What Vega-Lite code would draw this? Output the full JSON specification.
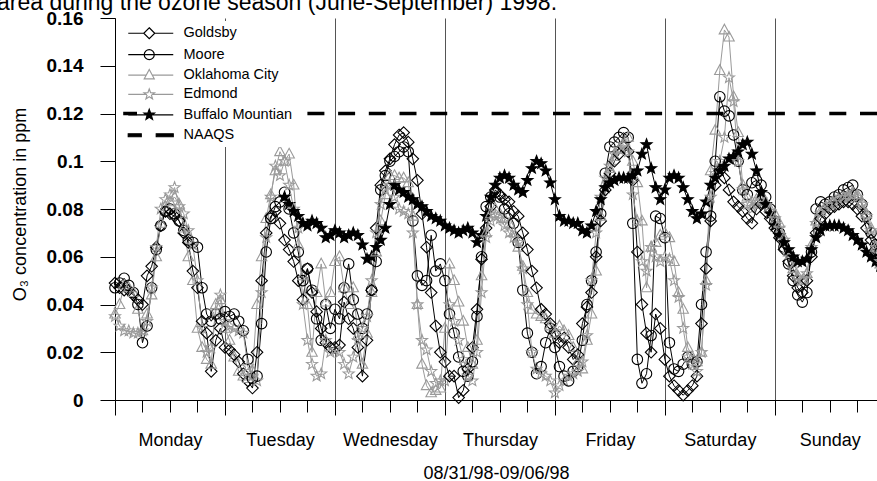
{
"$schema":"https://vega.github.io/schema/vega-lite/v6.json",
"autosize":"none",
"padding":{"left":115,"top":18,"right":0,"bottom":81},
"width":762,"height":382,
"background":"white",
"config":{"view":{"stroke":null},"font":"Liberation Sans",
 "legend":{"orient":"none","legendX":22,"legendY":3,"fillColor":"white","padding":5,"labelFont":"Liberation Sans","labelFontSize":14.5,"labelColor":"black","labelOffset":27,"rowPadding":4.4,"symbolSize":100,"symbolStrokeWidth":1.2,"title":null}},
"title":{"text":"area during the ozone season (June-September) 1998.","anchor":"start","frame":"group","orient":"top","baseline":"alphabetic","offset":0,"dy":24,"dx":-118,"fontSize":23,"fontWeight":"normal","font":"Liberation Sans","color":"black"},
"datasets":{
"names":[{"s":"Goldsby"},{"s":"Moore"},{"s":"Oklahoma City"},{"s":"Edmond"},{"s":"Buffalo Mountian"},{"s":"NAAQS"}],
"o3":[
{"h":0,"G":0.049,"M":0.047,"O":0.036,"E":0.035},
{"h":1,"G":0.047,"M":0.049,"O":0.040,"E":0.031},
{"h":2,"G":0.046,"M":0.051,"O":0.048,"E":0.029},
{"h":3,"G":0.046,"M":0.048,"O":0.047,"E":0.029},
{"h":4,"G":0.044,"M":0.045,"O":0.045,"E":0.028},
{"h":5,"G":0.042,"M":0.040,"O":0.038,"E":0.028},
{"h":6,"G":0.040,"M":0.024,"O":0.029,"E":0.029},
{"h":7,"G":0.052,"M":0.031,"O":0.036,"E":0.033},
{"h":8,"G":0.056,"M":0.047,"O":0.044,"E":0.047},
{"h":9,"G":0.064,"M":0.063,"O":0.060,"E":0.064},
{"h":10,"G":0.073,"M":0.073,"O":0.074,"E":0.080},
{"h":11,"G":0.079,"M":0.079,"O":0.081,"E":0.084},
{"h":12,"G":0.078,"M":0.080,"O":0.083,"E":0.086},
{"h":13,"G":0.077,"M":0.078,"O":0.085,"E":0.089},
{"h":14,"G":0.075,"M":0.075,"O":0.082,"E":0.081},
{"h":15,"G":0.070,"M":0.071,"O":0.072,"E":0.078},
{"h":16,"G":0.066,"M":0.067,"O":0.060,"E":0.071},
{"h":17,"G":0.054,"M":0.066,"O":0.050,"E":0.065},
{"h":18,"G":0.047,"M":0.064,"O":0.030,"E":0.050},
{"h":19,"G":0.033,"M":0.047,"O":0.022,"E":0.030},
{"h":20,"G":0.028,"M":0.036,"O":0.017,"E":0.020},
{"h":21,"G":0.012,"M":0.033,"O":0.015,"E":0.022},
{"h":22,"G":0.025,"M":0.036,"O":0.040,"E":0.037},
{"h":23,"G":0.030,"M":0.034,"O":0.042,"E":0.044},
{"h":24,"G":0.022,"M":0.037,"O":0.030,"E":0.033},
{"h":25,"G":0.021,"M":0.035,"O":0.025,"E":0.031},
{"h":26,"G":0.019,"M":0.036,"O":0.018,"E":0.030},
{"h":27,"G":0.016,"M":0.033,"O":0.012,"E":0.029},
{"h":28,"G":0.011,"M":0.029,"O":0.010,"E":0.028},
{"h":29,"G":0.008,"M":0.017,"O":0.009,"E":0.014},
{"h":30,"G":0.005,"M":0.009,"O":0.012,"E":0.010},
{"h":31,"G":0.020,"M":0.010,"O":0.040,"E":0.008},
{"h":32,"G":0.050,"M":0.032,"O":0.060,"E":0.045},
{"h":33,"G":0.070,"M":0.062,"O":0.076,"E":0.068},
{"h":34,"G":0.077,"M":0.076,"O":0.086,"E":0.085},
{"h":35,"G":0.079,"M":0.081,"O":0.096,"E":0.098},
{"h":36,"G":0.074,"M":0.083,"O":0.104,"E":0.094},
{"h":37,"G":0.067,"M":0.087,"O":0.100,"E":0.100,"B":0.085},
{"h":38,"G":0.063,"M":0.080,"O":0.103,"E":0.090,"B":0.082},
{"h":39,"G":0.058,"M":0.070,"O":0.090,"E":0.080,"B":0.079},
{"h":40,"G":0.050,"M":0.062,"O":0.065,"E":0.072,"B":0.077},
{"h":41,"G":0.042,"M":0.050,"O":0.052,"E":0.040,"B":0.074},
{"h":42,"G":0.055,"M":0.055,"O":0.040,"E":0.025,"B":0.073},
{"h":43,"G":0.045,"M":0.046,"O":0.020,"E":0.015,"B":0.075},
{"h":44,"G":0.037,"M":0.034,"O":0.045,"E":0.010,"B":0.074},
{"h":45,"G":0.030,"M":0.025,"O":0.057,"E":0.011,"B":0.072},
{"h":46,"G":0.024,"M":0.040,"O":0.041,"E":0.025,"B":0.068},
{"h":47,"G":0.022,"M":0.030,"O":0.045,"E":0.020,"B":0.069},
{"h":48,"G":0.022,"M":0.038,"O":0.058,"E":0.021,"B":0.071},
{"h":49,"G":0.023,"M":0.034,"O":0.060,"E":0.020,"B":0.070},
{"h":50,"G":0.041,"M":0.047,"O":0.047,"E":0.015,"B":0.068},
{"h":51,"G":0.034,"M":0.057,"O":0.040,"E":0.011,"B":0.069},
{"h":52,"G":0.030,"M":0.042,"O":0.047,"E":0.018,"B":0.070},
{"h":53,"G":0.022,"M":0.036,"O":0.027,"E":0.025,"B":0.069},
{"h":54,"G":0.010,"M":0.030,"O":0.015,"E":0.030,"B":0.065},
{"h":55,"G":0.025,"M":0.036,"O":0.028,"E":0.035,"B":0.059},
{"h":56,"G":0.046,"M":0.046,"O":0.045,"E":0.050,"B":0.060},
{"h":57,"G":0.072,"M":0.058,"O":0.062,"E":0.070,"B":0.064},
{"h":58,"G":0.090,"M":0.088,"O":0.075,"E":0.082,"B":0.067},
{"h":59,"G":0.096,"M":0.094,"O":0.086,"E":0.088,"B":0.072},
{"h":60,"G":0.101,"M":0.100,"O":0.094,"E":0.090,"B":0.082},
{"h":61,"G":0.107,"M":0.102,"O":0.094,"E":0.085,"B":0.090},
{"h":62,"G":0.111,"M":0.104,"O":0.093,"E":0.080,"B":0.088},
{"h":63,"G":0.112,"M":0.106,"O":0.093,"E":0.079,"B":0.087},
{"h":64,"G":0.108,"M":0.104,"O":0.091,"E":0.078,"B":0.085},
{"h":65,"G":0.101,"M":0.075,"O":0.077,"E":0.070,"B":0.084},
{"h":66,"G":0.092,"M":0.052,"O":0.040,"E":0.040,"B":0.082},
{"h":67,"G":0.078,"M":0.048,"O":0.015,"E":0.025,"B":0.081},
{"h":68,"G":0.064,"M":0.050,"O":0.006,"E":0.021,"B":0.079},
{"h":69,"G":0.045,"M":0.069,"O":0.003,"E":0.012,"B":0.077},
{"h":70,"G":0.031,"M":0.054,"O":0.004,"E":0.007,"B":0.076},
{"h":71,"G":0.020,"M":0.057,"O":0.005,"E":0.008,"B":0.075},
{"h":72,"G":0.016,"M":0.050,"O":0.030,"E":0.008,"B":0.073},
{"h":73,"G":0.010,"M":0.036,"O":0.057,"E":0.040,"B":0.072},
{"h":74,"G":0.010,"M":0.028,"O":0.050,"E":0.033,"B":0.071},
{"h":75,"G":0.001,"M":0.018,"O":0.041,"E":0.025,"B":0.070},
{"h":76,"G":0.004,"M":0.012,"O":0.033,"E":0.017,"B":0.071},
{"h":77,"G":0.013,"M":0.010,"O":0.022,"E":0.010,"B":0.072},
{"h":78,"G":0.022,"M":0.016,"O":0.015,"E":0.008,"B":0.070},
{"h":79,"G":0.038,"M":0.035,"O":0.025,"E":0.020,"B":0.066},
{"h":80,"G":0.059,"M":0.060,"O":0.052,"E":0.045,"B":0.069},
{"h":81,"G":0.072,"M":0.081,"O":0.070,"E":0.068,"B":0.077},
{"h":82,"G":0.081,"M":0.085,"O":0.078,"E":0.075,"B":0.085},
{"h":83,"G":0.088,"M":0.087,"O":0.080,"E":0.077,"B":0.090},
{"h":84,"G":0.086,"M":0.085,"O":0.078,"E":0.076,"B":0.093},
{"h":85,"G":0.084,"M":0.080,"O":0.076,"E":0.073,"B":0.094},
{"h":86,"G":0.083,"M":0.078,"O":0.074,"E":0.070,"B":0.093},
{"h":87,"G":0.079,"M":0.074,"O":0.070,"E":0.068,"B":0.090},
{"h":88,"G":0.077,"M":0.066,"O":0.064,"E":0.066,"B":0.088},
{"h":89,"G":0.070,"M":0.046,"O":0.056,"E":0.055,"B":0.087},
{"h":90,"G":0.063,"M":0.028,"O":0.045,"E":0.040,"B":0.092},
{"h":91,"G":0.054,"M":0.020,"O":0.038,"E":0.020,"B":0.097},
{"h":92,"G":0.047,"M":0.011,"O":0.036,"E":0.013,"B":0.100},
{"h":93,"G":0.038,"M":0.014,"O":0.035,"E":0.011,"B":0.099},
{"h":94,"G":0.036,"M":0.024,"O":0.034,"E":0.010,"B":0.096},
{"h":95,"G":0.032,"M":0.030,"O":0.031,"E":0.008,"B":0.091},
{"h":96,"G":0.028,"M":0.022,"O":0.028,"E":0.003,"B":0.084},
{"h":97,"G":0.024,"M":0.014,"O":0.031,"E":0.006,"B":0.077},
{"h":98,"G":0.026,"M":0.010,"O":0.029,"E":0.008,"B":0.075},
{"h":99,"G":0.022,"M":0.008,"O":0.027,"E":0.010,"B":0.075},
{"h":100,"G":0.017,"M":0.012,"O":0.022,"E":0.011,"B":0.074},
{"h":101,"G":0.019,"M":0.014,"O":0.016,"E":0.012,"B":0.074},
{"h":102,"G":0.032,"M":0.025,"O":0.013,"E":0.016,"B":0.071},
{"h":103,"G":0.039,"M":0.040,"O":0.025,"E":0.027,"B":0.070},
{"h":104,"G":0.045,"M":0.050,"O":0.036,"E":0.050,"B":0.073},
{"h":105,"G":0.060,"M":0.062,"O":0.054,"E":0.070,"B":0.079},
{"h":106,"G":0.075,"M":0.078,"O":0.077,"E":0.085,"B":0.084},
{"h":107,"G":0.088,"M":0.095,"O":0.091,"E":0.093,"B":0.089},
{"h":108,"G":0.095,"M":0.106,"O":0.097,"E":0.098,"B":0.091},
{"h":109,"G":0.100,"M":0.108,"O":0.102,"E":0.103,"B":0.092},
{"h":110,"G":0.103,"M":0.110,"O":0.105,"E":0.105,"B":0.093},
{"h":111,"G":0.106,"M":0.112,"O":0.108,"E":0.107,"B":0.093},
{"h":112,"G":0.104,"M":0.110,"O":0.110,"E":0.104,"B":0.093},
{"h":113,"G":0.092,"M":0.074,"O":0.100,"E":0.086,"B":0.094},
{"h":114,"G":0.062,"M":0.017,"O":0.091,"E":0.075,"B":0.096},
{"h":115,"G":0.040,"M":0.007,"O":0.075,"E":0.058,"B":0.103},
{"h":116,"G":0.028,"M":0.011,"O":0.047,"E":0.054,"B":0.107},
{"h":117,"G":0.020,"M":0.027,"O":0.064,"E":0.064,"B":0.097},
{"h":118,"G":0.036,"M":0.077,"O":0.066,"E":0.060,"B":0.089},
{"h":119,"G":0.030,"M":0.076,"O":0.069,"E":0.058,"B":0.084},
{"h":120,"G":0.017,"M":0.068,"O":0.070,"E":0.060,"B":0.088},
{"h":121,"G":0.010,"M":0.024,"O":0.068,"E":0.059,"B":0.093},
{"h":122,"G":0.006,"M":0.013,"O":0.058,"E":0.050,"B":0.094},
{"h":123,"G":0.004,"M":0.012,"O":0.045,"E":0.043,"B":0.093},
{"h":124,"G":0.002,"M":0.015,"O":0.038,"E":0.030,"B":0.089},
{"h":125,"G":0.004,"M":0.018,"O":0.022,"E":0.018,"B":0.084},
{"h":126,"G":0.006,"M":0.015,"O":0.018,"E":0.015,"B":0.079},
{"h":127,"G":0.010,"M":0.016,"O":0.016,"E":0.012,"B":0.076},
{"h":128,"G":0.032,"M":0.040,"O":0.020,"E":0.020,"B":0.078},
{"h":129,"G":0.055,"M":0.062,"O":0.050,"E":0.048,"B":0.083},
{"h":130,"G":0.075,"M":0.077,"O":0.096,"E":0.085,"B":0.090},
{"h":131,"G":0.090,"M":0.100,"O":0.113,"E":0.095,"B":0.093},
{"h":132,"G":0.096,"M":0.127,"O":0.138,"E":0.100,"B":0.096},
{"h":133,"G":0.093,"M":0.121,"O":0.155,"E":0.110,"B":0.098},
{"h":134,"G":0.088,"M":0.119,"O":0.152,"E":0.135,"B":0.101},
{"h":135,"G":0.083,"M":0.111,"O":0.127,"E":0.125,"B":0.102},
{"h":136,"G":0.081,"M":0.100,"O":0.112,"E":0.100,"B":0.104},
{"h":137,"G":0.079,"M":0.088,"O":0.090,"E":0.088,"B":0.107},
{"h":138,"G":0.076,"M":0.086,"O":0.085,"E":0.082,"B":0.108},
{"h":139,"G":0.074,"M":0.091,"O":0.083,"E":0.080,"B":0.103},
{"h":140,"G":0.080,"M":0.092,"O":0.084,"E":0.082,"B":0.096},
{"h":141,"G":0.082,"M":0.090,"O":0.086,"E":0.084,"B":0.087},
{"h":142,"G":0.079,"M":0.085,"O":0.083,"E":0.082,"B":0.082},
{"h":143,"G":0.076,"M":0.080,"O":0.080,"E":0.079,"B":0.078},
{"h":144,"G":0.072,"M":0.075,"O":0.078,"E":0.076,"B":0.073},
{"h":145,"G":0.068,"M":0.070,"O":0.074,"E":0.072,"B":0.069},
{"h":146,"G":0.063,"M":0.064,"O":0.068,"E":0.067,"B":0.066},
{"h":147,"G":0.058,"M":0.057,"O":0.062,"E":0.061,"B":0.063},
{"h":148,"G":0.052,"M":0.050,"O":0.055,"E":0.055,"B":0.060},
{"h":149,"G":0.047,"M":0.044,"O":0.052,"E":0.051,"B":0.058},
{"h":150,"G":0.045,"M":0.041,"O":0.050,"E":0.050,"B":0.058},
{"h":151,"G":0.050,"M":0.045,"O":0.053,"E":0.053,"B":0.059},
{"h":152,"G":0.060,"M":0.062,"O":0.065,"E":0.064,"B":0.063},
{"h":153,"G":0.070,"M":0.080,"O":0.075,"E":0.074,"B":0.068},
{"h":154,"G":0.076,"M":0.083,"O":0.079,"E":0.078,"B":0.071},
{"h":155,"G":0.078,"M":0.082,"O":0.081,"E":0.080,"B":0.073},
{"h":156,"G":0.080,"M":0.083,"O":0.082,"E":0.082,"B":0.073},
{"h":157,"G":0.081,"M":0.085,"O":0.084,"E":0.083,"B":0.073},
{"h":158,"G":0.082,"M":0.086,"O":0.085,"E":0.084,"B":0.073},
{"h":159,"G":0.083,"M":0.088,"O":0.085,"E":0.085,"B":0.072},
{"h":160,"G":0.083,"M":0.089,"O":0.086,"E":0.085,"B":0.071},
{"h":161,"G":0.082,"M":0.090,"O":0.087,"E":0.086,"B":0.069},
{"h":162,"G":0.080,"M":0.086,"O":0.086,"E":0.085,"B":0.067},
{"h":163,"G":0.077,"M":0.082,"O":0.083,"E":0.082,"B":0.065},
{"h":164,"G":0.072,"M":0.077,"O":0.078,"E":0.077,"B":0.062},
{"h":165,"G":0.067,"M":0.070,"O":0.072,"E":0.071,"B":0.060},
{"h":166,"G":0.063,"M":0.065,"O":0.064,"E":0.064,"B":0.058},
{"h":167,"G":0.060,"M":0.062,"O":0.057,"E":0.058,"B":0.056}
]},
"resolve":{"scale":{"shape":"independent","stroke":"independent","fill":"independent"},"axis":{"x":"independent"}},
"layer":[
{"data":{"name":"o3"},
 "transform":[{"fold":["G","M","O","E","B"],"as":["k","v"]},{"filter":"isValid(datum.v)"}],
 "mark":{"type":"line","strokeWidth":1},
 "encoding":{
  "x":{"field":"h","type":"quantitative","scale":{"domain":[0,166.3],"nice":false,"zero":false},
   "axis":{"orient":"bottom","values":[0,24,48,72,96,120,144],"tickSize":15,"tickColor":"black","tickWidth":1,"domainColor":"black","domainWidth":1,
    "labelExpr":"['Monday','Tuesday','Wednesday','Thursday','Friday','Saturday','Sunday'][round(datum.value/24)]",
    "labelOffset":55,"labelFlush":false,"labelOverlap":false,"labelPadding":16,"labelFontSize":18,"labelColor":"black","labelFont":"Liberation Sans",
    "grid":true,"gridColor":"#555555","gridWidth":1,
    "title":"08/31/98-09/06/98","titleFont":"Liberation Sans","titleFontSize":18,"titleFontWeight":"normal","titleColor":"black","titleY":78,"titleBaseline":"alphabetic"}},
  "y":{"field":"v","type":"quantitative","scale":{"domain":[0,0.16],"nice":false},
   "axis":{"values":[0,0.01,0.02,0.03,0.04,0.05,0.06,0.07,0.08,0.09,0.1,0.11,0.12,0.13,0.14,0.15,0.16],"tickSize":15,"tickColor":"black","domainColor":"black",
    "labelExpr":"round(datum.value*100)%2==0 ? toString(round(datum.value*100)/100) : ''",
    "labelFontWeight":"bold","labelFontSize":19,"labelPadding":17,"labelColor":"black","labelFont":"Liberation Sans","labelOverlap":false,"labelFlush":false,"grid":false,
    "title":"O₃ concentration in ppm","titleFont":"Liberation Sans","titleFontSize":18,"titleFontWeight":"normal","titleColor":"black","titleX":-86,"titleY":186,"titleAngle":270,"titleAlign":"center","titleBaseline":"bottom"}},
  "stroke":{"field":"k","type":"nominal","scale":{"domain":["G","M","O","E","B"],"range":["#000000","#000000","#9a9a9a","#9a9a9a","#000000"]},"legend":null}
 }},
{"data":{"name":"o3"},
 "transform":[{"fold":["G","M","O","E","B"],"as":["k","v"]},{"filter":"isValid(datum.v)"}],
 "mark":{"type":"point","filled":true,"opacity":1,"size":110,"strokeWidth":1.1},
 "encoding":{
  "x":{"field":"h","type":"quantitative",
   "axis":{"orient":"bottom","values":[6,12,18,30,36,42,54,60,66,78,84,90,102,108,114,126,132,138,150,156,162],"tickSize":12,"tickColor":"black","labels":false,"domain":false,"grid":false,"title":null}},
  "y":{"field":"v","type":"quantitative"},
  "shape":{"field":"k","type":"nominal","scale":{"domain":["G","M","O","E","B"],"range":[
   "M0,-1.1L1.1,0L0,1.1L-1.1,0Z",
   "M1,0A1,1,0,1,1,-1,0A1,1,0,1,1,1,0Z",
   "M0,-1.1L1,0.75L-1,0.75Z",
   "M0,-1.1L0.27,-0.37L1.05,-0.34L0.44,0.14L0.65,0.89L0,0.46L-0.65,0.89L-0.44,0.14L-1.05,-0.34L-0.27,-0.37Z",
   "M0,-1.1L0.27,-0.37L1.05,-0.34L0.44,0.14L0.65,0.89L0,0.46L-0.65,0.89L-0.44,0.14L-1.05,-0.34L-0.27,-0.37Z"]},"legend":null},
  "stroke":{"field":"k","type":"nominal","scale":{"domain":["G","M","O","E","B"],"range":["#000000","#000000","#9a9a9a","#9a9a9a","#000000"]},"legend":null},
  "fill":{"condition":{"test":"datum.k==='B'","value":"#000000"},"value":"transparent"}
 }},
{"data":{"values":[{"naaqs":0.12}]},
 "mark":{"type":"rule","strokeWidth":3.5,"strokeDash":[17,13.7],"color":"black"},
 "encoding":{"y":{"field":"naaqs","type":"quantitative"}}},
{"data":{"name":"names"},
 "transform":[{"filter":"false"}],
 "mark":{"type":"point","filled":true,"opacity":1,"strokeWidth":1.2},
 "encoding":{
  "shape":{"field":"s","type":"nominal","scale":{"domain":["Goldsby","Moore","Oklahoma City","Edmond","Buffalo Mountian","NAAQS"],"range":[
   "M-4.2,0H-1.1M1.1,0H4.8M0,-1.1L1.1,0L0,1.1L-1.1,0Z",
   "M-4.2,0H4.8M1,0A1,1,0,1,1,-1,0A1,1,0,1,1,1,0Z",
   "M-4.2,0H-0.6M0.6,0H4.8M0,-1.1L1,0.75L-1,0.75Z",
   "M-4.2,0H-0.45M0.45,0H4.8M0,-1.1L0.27,-0.37L1.05,-0.34L0.44,0.14L0.65,0.89L0,0.46L-0.65,0.89L-0.44,0.14L-1.05,-0.34L-0.27,-0.37Z",
   "M-4.2,0H4.8M0,-1.1L0.27,-0.37L1.05,-0.34L0.44,0.14L0.65,0.89L0,0.46L-0.65,0.89L-0.44,0.14L-1.05,-0.34L-0.27,-0.37Z",
   "M-4.2,-0.3H-1.6V0.3H-4.2ZM1.4,-0.3H4.8V0.3H1.4Z"]},"legend":{"title":null}},
  "stroke":{"field":"s","type":"nominal","scale":{"domain":["Goldsby","Moore","Oklahoma City","Edmond","Buffalo Mountian","NAAQS"],"range":["#000000","#000000","#9a9a9a","#9a9a9a","#000000","#000000"]},"legend":{"title":null}},
  "fill":{"field":"s","type":"nominal","scale":{"domain":["Goldsby","Moore","Oklahoma City","Edmond","Buffalo Mountian","NAAQS"],"range":["#ffffff","#ffffff","#ffffff","#ffffff","#000000","#000000"]},"legend":{"title":null}}
 }}
]
}
